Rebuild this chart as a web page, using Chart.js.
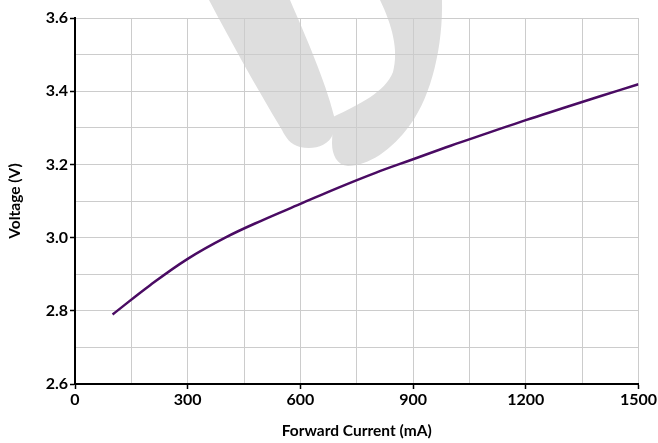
<!DOCTYPE html>
<html>
<head>
<meta charset="utf-8">
<script src="https://cdn.jsdelivr.net/npm/chart.js@4.4.1/dist/chart.umd.min.js"></script>
<style>
  html,body{margin:0;padding:0;background:#fff;}
  #wrap{width:658px;height:443px;position:relative;}
</style>
</head>
<body>
<div id="wrap"><canvas id="c" width="658" height="443"></canvas></div>
<script>
const currentMA = [100, 200, 300, 400, 500, 600, 700, 800, 900, 1000, 1100, 1200, 1300, 1400, 1500];
const voltageV  = [2.790, 2.870, 2.942, 3.000, 3.048, 3.092, 3.136, 3.177, 3.214, 3.251, 3.286, 3.321, 3.354, 3.387, 3.419];
const xTickStep = 150, xLabelStep = 300;
const yTickStep = 0.1, yLabelStep = 0.2;

const points = currentMA.map((x, i) => ({x: x, y: voltageV[i]}));

const watermark = {
  id: 'watermark',
  beforeDraw(chart) {
    const c = chart.ctx;
    c.save();
    c.fillStyle = '#dedede';
    // left stroke
    c.beginPath();
    c.moveTo(209, 0);
    c.lineTo(290, 0);
    c.bezierCurveTo(305, 35, 325, 80, 334, 116);
    c.lineTo(333, 134);
    c.bezierCurveTo(328, 147, 312, 150, 300, 147);
    c.bezierCurveTo(290, 144, 286, 138, 282, 130);
    c.bezierCurveTo(255, 85, 230, 40, 209, 0);
    c.closePath();
    c.fill();
    // right stroke
    c.beginPath();
    c.moveTo(380, 0);
    c.lineTo(442, 0);
    c.bezierCurveTo(443, 45, 432, 95, 410, 125);
    c.bezierCurveTo(392, 150, 368, 166, 348, 166);
    c.bezierCurveTo(337, 165, 332, 155, 332, 143);
    c.lineTo(333, 117);
    c.bezierCurveTo(360, 104, 385, 92, 393, 72);
    c.bezierCurveTo(399, 50, 392, 25, 380, 0);
    c.closePath();
    c.fill();
    c.restore();
  }
};

const font = {family: 'Lato', weight: 'bold', size: 16};
const titleFont = {family: 'Lato', weight: 'bold', size: 15.5};

new Chart(document.getElementById('c'), {
  type: 'line',
  data: {
    datasets: [{
      data: points,
      borderColor: '#4a0b63',
      borderWidth: 2.5,
      pointRadius: 0,
      fill: false,
      tension: 0.4
    }]
  },
  options: {
    responsive: false,
    animation: false,
    devicePixelRatio: 1,
    layout: {padding: {top: 18, right: 19, left: 0, bottom: 0}},
    plugins: {legend: {display: false}, tooltip: {enabled: false}},
    scales: {
      x: {
        type: 'linear',
        min: 0, max: 1500,
        afterFit(s) { s.height = 59; },
        border: {color: '#000', width: 2},
        grid: {
          color: '#cccccc',
          lineWidth: 1,
          tickLength: 5,
          tickColor: ctx => (ctx.tick && Math.round(ctx.tick.value) % xLabelStep === 0) ? '#000' : 'rgba(0,0,0,0)',
          tickWidth: 1.5
        },
        ticks: {
          stepSize: xTickStep,
          autoSkip: false,
          maxRotation: 0,
          color: '#000',
          font: font,
          padding: 1,
          callback: v => (Math.round(v) % xLabelStep === 0) ? String(Math.round(v)) : ''
        },
        title: {display: true, text: 'Forward Current (mA)', color: '#000', font: titleFont, padding: {top: 0, bottom: 3}}
      },
      y: {
        min: 2.6, max: 3.6,
        afterFit(s) { s.width = 75; },
        border: {color: '#000', width: 2},
        grid: {
          color: '#cccccc',
          lineWidth: 1,
          tickLength: 5,
          tickColor: ctx => (ctx.tick && Math.round(ctx.tick.value * 10) % 2 === 0) ? '#000' : 'rgba(0,0,0,0)',
          tickWidth: 1.5
        },
        ticks: {
          stepSize: yTickStep,
          autoSkip: false,
          color: '#000',
          font: font,
          padding: 2,
          callback: v => (Math.round(v * 10) % 2 === 0) ? v.toFixed(1) : ''
        },
        title: {display: true, text: 'Voltage (V)', color: '#000', font: titleFont, padding: {top: 6, bottom: 0}}
      }
    }
  },
  plugins: [watermark]
});
</script>
</body>
</html>
